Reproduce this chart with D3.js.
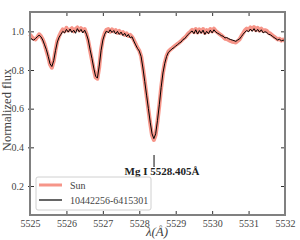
<!DOCTYPE html>
<html><head><meta charset="utf-8">
<script src="https://cdn.jsdelivr.net/npm/d3@7"></script>
<style>body{margin:0;background:#fff}svg{display:block}</style>
</head><body><svg id="c" width="300" height="240"></svg>
<script>
const wavelength = [
5525.00,5525.05,5525.10,5525.15,5525.20,5525.25,5525.30,5525.35,5525.40,5525.45,
5525.50,5525.55,5525.60,5525.65,5525.70,5525.75,5525.80,5525.85,5525.90,5525.95,
5526.00,5526.05,5526.10,5526.15,5526.20,5526.25,5526.30,5526.35,5526.40,5526.45,
5526.50,5526.55,5526.60,5526.65,5526.70,5526.75,5526.80,5526.85,5526.90,5526.95,
5527.00,5527.05,5527.10,5527.15,5527.20,5527.25,5527.30,5527.35,5527.40,5527.45,
5527.50,5527.55,5527.60,5527.65,5527.70,5527.75,5527.80,5527.85,5527.90,5527.95,
5528.00,5528.05,5528.10,5528.15,5528.20,5528.25,5528.30,5528.35,5528.40,5528.45,
5528.50,5528.55,5528.60,5528.65,5528.70,5528.75,5528.80,5528.85,5528.90,5528.95,
5529.00,5529.05,5529.10,5529.15,5529.20,5529.25,5529.30,5529.35,5529.40,5529.45,
5529.50,5529.55,5529.60,5529.65,5529.70,5529.75,5529.80,5529.85,5529.90,5529.95,
5530.00,5530.05,5530.10,5530.15,5530.20,5530.25,5530.30,5530.35,5530.40,5530.45,
5530.50,5530.55,5530.60,5530.65,5530.70,5530.75,5530.80,5530.85,5530.90,5530.95,
5531.00,5531.05,5531.10,5531.15,5531.20,5531.25,5531.30,5531.35,5531.40,5531.45,
5531.50,5531.55,5531.60,5531.65,5531.70,5531.75,5531.80,5531.85,5531.90,5531.95,
5532.00];
const sunFlux = [
0.985,0.970,0.962,0.958,0.970,0.985,0.975,0.958,0.935,0.900,
0.868,0.828,0.812,0.845,0.902,0.950,0.975,0.995,1.010,1.000,
1.018,1.004,1.008,1.016,1.000,1.012,1.020,1.004,1.016,1.002,
1.012,0.988,0.950,0.900,0.852,0.802,0.762,0.755,0.815,0.905,
0.960,0.990,1.008,1.012,0.998,1.010,1.000,1.006,0.992,1.002,
0.990,0.996,0.982,0.990,0.976,0.982,0.972,0.955,0.935,0.915,
0.900,0.872,0.812,0.742,0.668,0.596,0.525,0.462,0.438,0.465,
0.535,0.618,0.708,0.785,0.838,0.874,0.896,0.905,0.912,0.920,
0.928,0.935,0.942,0.950,0.960,0.968,0.978,0.990,0.998,1.008,
0.996,1.012,0.994,1.010,0.998,1.012,0.992,1.006,0.996,1.012,
1.000,1.014,1.002,0.994,0.986,0.980,0.972,0.962,0.960,0.955,
0.950,0.946,0.944,0.942,0.950,0.958,0.975,0.990,1.006,1.014,
1.008,1.020,1.010,1.022,1.006,1.018,1.004,1.014,1.002,1.006,
1.002,0.992,0.988,0.980,0.972,0.966,0.958,0.962,0.952,0.958,
0.950];
const starFlux = [
0.970,0.958,0.955,0.962,0.972,0.980,0.972,0.955,0.930,0.905,
0.870,0.832,0.818,0.848,0.900,0.945,0.970,0.985,1.000,0.992,
1.010,0.996,1.012,0.994,1.006,0.990,1.014,0.998,1.010,0.992,
1.006,0.985,0.955,0.905,0.860,0.810,0.768,0.758,0.820,0.900,
0.955,0.985,1.002,0.992,1.008,0.994,1.004,0.986,1.000,0.984,
0.996,0.978,0.990,0.972,0.984,0.966,0.972,0.950,0.930,0.912,
0.898,0.870,0.810,0.740,0.670,0.600,0.530,0.470,0.445,0.470,
0.540,0.620,0.710,0.785,0.835,0.870,0.892,0.900,0.910,0.915,
0.925,0.930,0.940,0.945,0.958,0.962,0.975,0.985,0.995,1.002,
0.988,1.008,0.986,1.004,0.990,1.006,0.984,1.000,0.988,1.006,
0.992,1.008,0.996,0.990,0.985,0.978,0.975,0.966,0.968,0.962,
0.958,0.955,0.952,0.948,0.955,0.960,0.972,0.985,0.996,1.004,
0.998,1.012,1.000,1.014,0.998,1.010,0.996,1.008,0.992,0.998,
0.994,0.985,0.982,0.975,0.968,0.962,0.955,0.960,0.950,0.955,
0.948];
const xTicks = [5525,5526,5527,5528,5529,5530,5531,5532];
const yTicks = [0.2,0.4,0.6,0.8,1.0];
const seriesNames = ["Sun","10442256-6415301"];
const lineLabel = "Mg I 5528.405Å";
const lineCenter = 5528.405;

const svg = d3.select("#c");
const L=30,R=285,T=12,B=215;
const x = d3.scaleLinear().domain([5525,5532]).range([L,R]);
const y = d3.scaleLinear().domain([0.05,1.1]).range([B,T]);
const font = "'Liberation Serif', serif";
const sun = wavelength.map((w,i)=>[w,sunFlux[i]]);
const star = wavelength.map((w,i)=>[w,starFlux[i]]);
const line = d3.line().x(d=>x(d[0])).y(d=>y(d[1]));

svg.append("path").attr("d",line(sun)).attr("fill","none")
  .attr("stroke","#f47a6c").attr("stroke-opacity",0.8).attr("stroke-width",4).attr("stroke-linejoin","round");
svg.append("path").attr("d",line(star)).attr("fill","none")
  .attr("stroke","#000").attr("stroke-width",1);

const fmtY = d3.format(".1f");
const gx = svg.append("g").attr("transform",`translate(0,${B})`).call(d3.axisBottom(x).tickValues(xTicks).tickSize(-4).tickPadding(5).tickFormat(d3.format("d")));
const gxt = svg.append("g").attr("transform",`translate(0,${T})`).call(d3.axisTop(x).tickValues(xTicks).tickSize(-4).tickFormat(""));
const gy = svg.append("g").attr("transform",`translate(${L},0)`).call(d3.axisLeft(y).tickValues(yTicks).tickSize(-4).tickPadding(6).tickFormat(fmtY));
const gyr = svg.append("g").attr("transform",`translate(${R},0)`).call(d3.axisRight(y).tickValues(yTicks).tickSize(-4).tickFormat(""));
[gx,gxt,gy,gyr].forEach(g=>{
  g.select(".domain").remove();
  g.selectAll(".tick line").attr("stroke","#333");
  g.selectAll("text").attr("font-family",font).attr("font-size",10).attr("fill","#444");
});
gy.selectAll(".tick line").attr("x1",-2);
svg.append("rect").attr("x",L).attr("y",T).attr("width",R-L).attr("height",B-T)
  .attr("fill","none").attr("stroke","#808080").attr("stroke-width",2);

svg.append("line").attr("x1",x(lineCenter)).attr("x2",x(lineCenter)).attr("y1",155).attr("y2",167)
  .attr("stroke","#333").attr("stroke-width",1.2);
svg.append("text").attr("x",x(lineCenter)+8).attr("y",175).attr("text-anchor","middle")
  .attr("font-family",font).attr("font-weight","bold").attr("font-size",11).attr("fill","#222").text(lineLabel);

const lg = svg.append("g");
lg.append("rect").attr("x",36).attr("y",177).attr("width",115).attr("height",33).attr("rx",2)
  .attr("fill","#fff").attr("fill-opacity",0.85).attr("stroke","#d0d0d0").attr("stroke-width",1);
const cols = ["#f47a6c","#000"], ws=[3,1.2];
seriesNames.forEach((n,i)=>{
  const yy = 185 + i*15;
  lg.append("line").attr("x1",39).attr("x2",62).attr("y1",yy).attr("y2",yy)
    .attr("stroke",cols[i]).attr("stroke-width",ws[i]).attr("stroke-opacity",i?1:0.8);
  lg.append("text").attr("x",70).attr("y",yy+3.5).attr("font-family",font).attr("font-size",10)
    .attr("fill","#444").text(n);
});

svg.append("text").attr("transform","translate(11,110) rotate(-90)").attr("text-anchor","middle")
  .attr("font-family",font).attr("font-size",12.5).attr("fill","#444").text("Normalized flux");
svg.append("text").attr("x",157).attr("y",236).attr("text-anchor","middle")
  .attr("font-family",font).attr("font-size",13).attr("fill","#444").attr("font-style","italic").text("λ(Å)");
</script></body></html>
